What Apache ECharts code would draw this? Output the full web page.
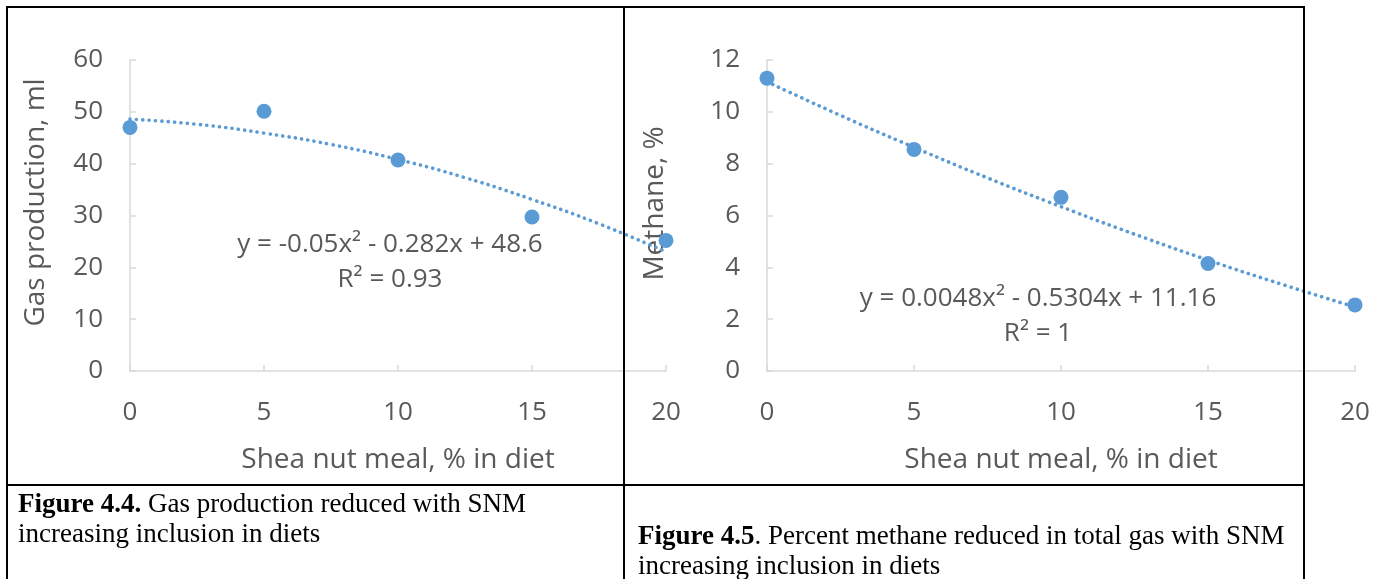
<!DOCTYPE html>
<html>
<head>
<meta charset="utf-8">
<script src="https://cdn.jsdelivr.net/npm/echarts@6/dist/echarts.min.js"></script>
<style>
html,body{margin:0;padding:0;background:#fff;}
#chart{width:1386px;height:579px;}
</style>
</head>
<body>
<div id="chart"></div>
<script>
// ---- data ----
const inclusion = [0, 5, 10, 15, 20];
const gasProduction = [47.0, 50.1, 40.7, 29.7, 25.2];
const methanePct = [11.3, 8.55, 6.7, 4.15, 2.55];
// fitted trendlines
const trendX = [0, 2.5, 5, 7.5, 10, 12.5, 15, 17.5, 20];
const gasTrend = [48.6, 47.6, 45.9, 43.7, 40.8, 37.3, 33.1, 28.4, 23.0];
const methaneTrend = [11.16, 9.86, 8.63, 7.45, 6.34, 5.28, 4.28, 3.35, 2.47];
const gasTicks = [0, 60, 10];
const methaneTicks = [0, 12, 2];
const xTicks = [0, 20, 5];
const gasEquation = ['y = -0.05x² - 0.282x + 48.6', 'R² = 0.93'];
const methaneEquation = ['y = 0.0048x² - 0.5304x + 11.16', 'R² = 1'];
const caption1 = ['Figure 4.4.', ' Gas production reduced with SNM', 'increasing inclusion in diets'];
const caption2 = ['Figure 4.5', '. Percent methane reduced in total gas with SNM', 'increasing inclusion in diets'];

const pair = (xs, ys) => xs.map((x, i) => [x, ys[i]]);

const FONT = 'Open Sans';
const GREY = '#595959';
const AXIS = '#d9d9d9';
const BLUE = '#5b9bd5';
const TICK = 26;
const TITLE = 28;
const CAP = 27;

function xAxis(grid) {
  return {
    type: 'value', gridIndex: grid, min: xTicks[0], max: xTicks[1], interval: xTicks[2],
    name: 'Shea nut meal, % in diet', nameLocation: 'middle', nameGap: 75,
    nameTextStyle: {color: GREY, fontFamily: FONT, fontSize: TITLE},
    axisLine: {lineStyle: {color: AXIS, width: 1.5}},
    axisTick: {show: true, inside: true, length: 6, lineStyle: {color: AXIS, width: 1.5}},
    axisLabel: {color: GREY, fontFamily: FONT, fontSize: TICK, margin: 29},
    splitLine: {show: false}
  };
}
function yAxis(grid, ticks, name, gap, pad) {
  return {
    type: 'value', gridIndex: grid, min: ticks[0], max: ticks[1], interval: ticks[2],
    name: name, nameLocation: 'middle', nameGap: gap, nameRotate: 90,
    nameTextStyle: {color: GREY, fontFamily: FONT, fontSize: TITLE, padding: pad},
    axisLine: {show: true, lineStyle: {color: AXIS, width: 1.5}},
    axisTick: {show: true, inside: true, length: 6, lineStyle: {color: AXIS, width: 1.5}},
    axisLabel: {color: GREY, fontFamily: FONT, fontSize: TICK, margin: 27},
    splitLine: {show: false}
  };
}
const trendStyle = {color: BLUE, width: 3.6, type: [0.1, 6.3], cap: 'round'};

function eqText(x, y, lines) {
  return {type: 'text', x: x, y: y, z: 10, style: {
    text: lines.join('\n'), textAlign: 'center', textVerticalAlign: 'top', verticalAlign: 'top',
    font: TICK + 'px "Open Sans"', fill: GREY, lineHeight: 35}};
}
function caption(x, y, parts) {
  return {type: 'text', x: x, y: y, z: 20, style: {
    text: '{b|' + parts[0] + '}' + parts[1] + '\n' + parts[2],
    font: CAP + 'px "Liberation Serif"', fill: '#000', lineHeight: 30,
    rich: {b: {font: 'bold ' + CAP + 'px "Liberation Serif"', fill: '#000', lineHeight: 30}}}};
}
function border(x1, y1, x2, y2) {
  return {type: 'line', z: 20, shape: {x1: x1, y1: y1, x2: x2, y2: y2}, style: {stroke: '#000', lineWidth: 2}};
}

const chart = echarts.init(document.getElementById('chart'), null, {renderer: 'canvas'});
chart.setOption({
  animation: false,
  grid: [
    {left: 130, top: 60, width: 536, height: 311},
    {left: 767, top: 60, width: 588, height: 311}
  ],
  xAxis: [xAxis(0), xAxis(1)],
  yAxis: [
    yAxis(0, gasTicks, 'Gas production, ml', 80, [0, 0, 0, 26]),
    yAxis(1, methaneTicks, 'Methane, %', 98, [0, 0, 0, 24])
  ],
  series: [
    {type: 'line', xAxisIndex: 0, yAxisIndex: 0, data: pair(trendX, gasTrend), smooth: true,
     showSymbol: false, lineStyle: trendStyle, z: 2, silent: true},
    {type: 'scatter', xAxisIndex: 0, yAxisIndex: 0, data: pair(inclusion, gasProduction),
     symbolSize: 15, itemStyle: {color: BLUE, opacity: 1}, z: 3},
    {type: 'line', xAxisIndex: 1, yAxisIndex: 1, data: pair(trendX, methaneTrend), smooth: true,
     showSymbol: false, lineStyle: trendStyle, z: 2, silent: true},
    {type: 'scatter', xAxisIndex: 1, yAxisIndex: 1, data: pair(inclusion, methanePct),
     symbolSize: 15, itemStyle: {color: BLUE, opacity: 1}, z: 3}
  ],
  graphic: [
    eqText(390, 227, gasEquation),
    eqText(1038, 281, methaneEquation),
    border(6, 7, 1305, 7),
    border(7, 6, 7, 579),
    border(624, 6, 624, 579),
    border(1304, 6, 1304, 579),
    border(6, 485, 1305, 485),
    caption(18, 490, caption1),
    caption(638, 522, caption2)
  ]
});
</script>
</body>
</html>
